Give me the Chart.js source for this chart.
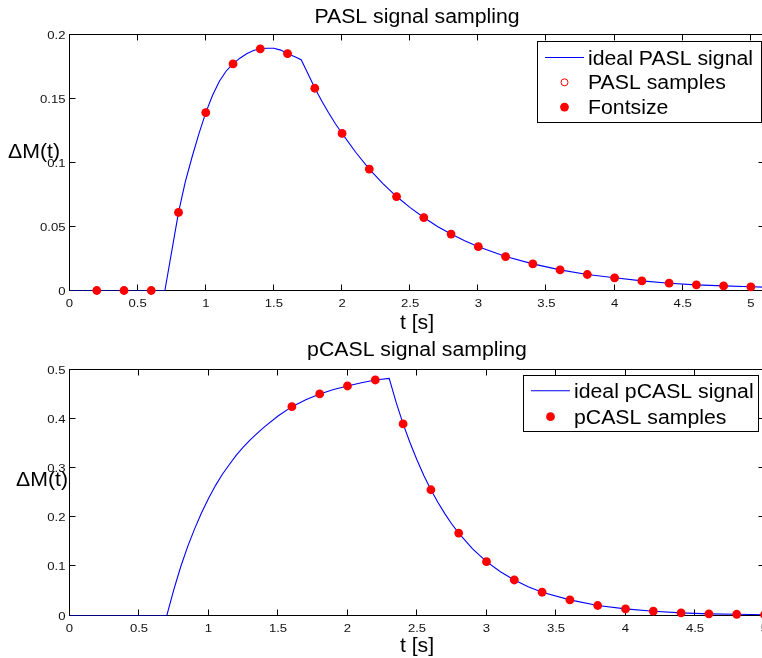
<!DOCTYPE html>
<html>
<head>
<meta charset="utf-8">
<title>ASL signal sampling</title>
<script src="https://cdn.jsdelivr.net/npm/chart.js@4.4.0/dist/chart.umd.min.js"></script>
<style>
  html, body { margin: 0; padding: 0; background: #fff; overflow: hidden; width: 762px; height: 658px; }
  canvas { position: absolute; left: 0; }
  #paslChart { top: 0; }
  #pcaslChart { top: 330px; }
</style>
</head>
<body>
<canvas id="paslChart" width="770" height="336"></canvas>
<canvas id="pcaslChart" width="770" height="328"></canvas>
<script>
const FONT = "'Liberation Sans', Arial, Helvetica, sans-serif";

// PASL panel
const paslTimes = [0.2, 0.4, 0.6, 0.8, 1.0, 1.2, 1.4, 1.6, 1.8, 2.0, 2.2, 2.4, 2.6,
  2.8, 3.0, 3.2, 3.4, 3.6, 3.8, 4.0, 4.2, 4.4, 4.6, 4.8, 5.0];
const paslSamples = [0, 0, 0, 0.061, 0.139, 0.177, 0.1888, 0.185, 0.158, 0.1227, 0.0949,
  0.0734, 0.057, 0.0441, 0.0342, 0.0265, 0.0208, 0.0161, 0.0125, 0.0099, 0.0075,
  0.0057, 0.0044, 0.0036, 0.0029];
const paslCurveTimes = [0, 0.7, 0.75, 0.8, 0.85, 0.9, 0.95, 1.0, 1.05, 1.1, 1.15, 1.2,
  1.25, 1.3, 1.35, 1.4, 1.45, 1.5, 1.55, 1.6, 1.65, 1.7, 1.75, 1.8, 1.85, 1.9, 1.95,
  2.0, 2.1, 2.2, 2.3, 2.4, 2.5, 2.6, 2.7, 2.8, 2.9, 3.0, 3.2, 3.4, 3.6, 3.8, 4.0, 4.2,
  4.4, 4.6, 4.8, 5.0, 5.1];
const paslCurveValues = [0, 0, 0.0305, 0.061, 0.085, 0.1045, 0.1225, 0.139, 0.1525,
  0.1635, 0.1715, 0.177, 0.1815, 0.185, 0.1875, 0.1889, 0.1893, 0.1893, 0.1878, 0.185,
  0.1829, 0.1803, 0.1694, 0.1582, 0.1482, 0.139, 0.1305, 0.1227, 0.108, 0.0949, 0.0835,
  0.0734, 0.0647, 0.057, 0.05, 0.0441, 0.0389, 0.0342, 0.0265, 0.0208, 0.0161, 0.0125,
  0.0099, 0.0075, 0.0057, 0.0044, 0.0036, 0.0029, 0.0026];
const paslXTicks = [0, 0.5, 1, 1.5, 2, 2.5, 3, 3.5, 4, 4.5, 5];
const paslYTicks = [0, 0.05, 0.1, 0.15, 0.2];

// pCASL panel
const pcaslTimes = [1.6, 1.8, 2.0, 2.2, 2.4, 2.6, 2.8, 3.0, 3.2, 3.4, 3.6, 3.8, 4.0,
  4.2, 4.4, 4.6, 4.8, 5.0];
const pcaslSamples = [0.4245, 0.4503, 0.4665, 0.4787, 0.3894, 0.2556, 0.1676, 0.1095,
  0.0722, 0.0473, 0.0317, 0.0203, 0.0134, 0.0087, 0.0053, 0.0033, 0.0025, 0.0015];
const pcaslCurveTimes = [0, 0.7, 0.75, 0.8, 0.85, 0.9, 0.95, 1.0, 1.05, 1.1, 1.15, 1.2,
  1.25, 1.3, 1.35, 1.4, 1.5, 1.6, 1.7, 1.8, 1.9, 2.0, 2.1, 2.2, 2.3, 2.35, 2.4, 2.45,
  2.5, 2.55, 2.6, 2.65, 2.7, 2.75, 2.8, 2.9, 3.0, 3.1, 3.2, 3.3, 3.4, 3.6, 3.8, 4.0,
  4.2, 4.4, 4.6, 4.8, 5.0];
const pcaslCurveValues = [0, 0, 0.052, 0.099, 0.14, 0.176, 0.209, 0.238, 0.264, 0.287,
  0.307, 0.326, 0.342, 0.357, 0.37, 0.383, 0.4055, 0.4245, 0.4385, 0.4503, 0.4595,
  0.4665, 0.473, 0.4787, 0.482, 0.433, 0.3894, 0.351, 0.316, 0.284, 0.2556, 0.23, 0.207,
  0.186, 0.1676, 0.1355, 0.1095, 0.089, 0.0722, 0.0585, 0.0473, 0.0317, 0.0203, 0.0134,
  0.0087, 0.0053, 0.0033, 0.0025, 0.0015];
const pcaslXTicks = [0, 0.5, 1, 1.5, 2, 2.5, 3, 3.5, 4, 4.5, 5];
const pcaslYTicks = [0, 0.1, 0.2, 0.3, 0.4, 0.5];

function points(xs, ys) {
  return xs.map((x, i) => ({ x: x, y: ys[i] }));
}

// the labels come out a little wide, so text is drawn with a horizontal stretch
function wideText(ctx, text, x, y, size, align, sx) {
  ctx.save();
  ctx.font = size + "px " + FONT;
  ctx.textAlign = align;
  ctx.textBaseline = "alphabetic";
  ctx.translate(x, y);
  ctx.scale(sx, 1);
  ctx.fillText(text, 0, 0);
  ctx.restore();
}

// box round the axes, inward ticks on every side, tick labels, titles and a boxed legend
const frame = {
  id: "frame",
  beforeDatasetsDraw(chart) {
    const { ctx, chartArea: a } = chart;
    const x = chart.scales.x;
    const y = chart.scales.y;
    ctx.save();
    ctx.strokeStyle = "#000";
    ctx.lineWidth = 1;
    ctx.strokeRect(a.left, a.top, a.right - a.left, a.bottom - a.top);
    ctx.beginPath();
    x.ticks.forEach((t) => {
      const px = Math.round(x.getPixelForValue(t.value)) - 0.5;
      ctx.moveTo(px, a.bottom);
      ctx.lineTo(px, a.bottom - 6);
      ctx.moveTo(px, a.top);
      ctx.lineTo(px, a.top + 6);
    });
    y.ticks.forEach((t) => {
      const py = Math.round(y.getPixelForValue(t.value)) - 0.5;
      ctx.moveTo(a.left, py);
      ctx.lineTo(a.left + 6, py);
      ctx.moveTo(a.right, py);
      ctx.lineTo(a.right - 6, py);
    });
    ctx.stroke();

    ctx.fillStyle = "#111";
    x.ticks.forEach((t) => {
      wideText(ctx, String(t.value), x.getPixelForValue(t.value), a.bottom + 16, 11.5, "center", 1.14);
    });
    y.ticks.forEach((t) => {
      wideText(ctx, String(t.value), a.left - 4, y.getPixelForValue(t.value) + 4, 11.5, "right", 1.14);
    });
    ctx.restore();
  },
  afterDraw(chart, args, o) {
    const { ctx, chartArea: a } = chart;
    const fs = 19.5;
    const sx = 1.09;
    ctx.save();
    ctx.fillStyle = "#000";
    const cx = (a.left + a.right) / 2;
    wideText(ctx, o.title, cx, a.top - o.titleGap, fs, "center", sx);
    wideText(ctx, o.xlabel, cx, a.bottom + o.xlabelGap, fs, "center", sx);
    wideText(ctx, o.ylabel, o.ylabelX, o.ylabelY, fs, "left", sx);

    const L = o.legend;
    ctx.fillStyle = "#fff";
    ctx.fillRect(L.x, L.y, L.w, L.h);
    ctx.strokeStyle = "#000";
    ctx.lineWidth = 1;
    ctx.strokeRect(L.x + 0.5, L.y + 0.5, L.w, L.h);
    chart.data.datasets.forEach((ds, i) => {
      const cy = L.y + L.first + i * L.row;
      if (ds.showLine === false) {
        ctx.beginPath();
        ctx.arc(L.x + 27.5, cy, ds.pointRadius, 0, Math.PI * 2);
        ctx.fillStyle = ds.pointBackgroundColor;
        ctx.fill();
        if (ds.pointBorderWidth > 0) {
          ctx.strokeStyle = ds.pointBorderColor;
          ctx.lineWidth = ds.pointBorderWidth;
          ctx.stroke();
        }
      } else {
        ctx.beginPath();
        ctx.moveTo(L.x + 8, cy);
        ctx.lineTo(L.x + 47, cy);
        ctx.strokeStyle = ds.borderColor;
        ctx.lineWidth = ds.borderWidth;
        ctx.stroke();
      }
      ctx.fillStyle = "#000";
      wideText(ctx, ds.label, L.x + 51, cy + 7, fs, "left", sx);
    });
    ctx.restore();
  },
};

function makePanel(id, cfg) {
  return new Chart(document.getElementById(id), {
    type: "line",
    data: {
      datasets: [
        {
          label: cfg.lineLabel,
          data: points(cfg.curveT, cfg.curveV),
          borderColor: "#0000ff",
          borderWidth: 1.1,
          pointRadius: 0,
          tension: 0,
          order: 3,
        },
      ].concat(cfg.markers),
    },
    options: {
      responsive: false,
      animation: false,
      devicePixelRatio: 1,
      events: [],
      layout: { padding: cfg.padding },
      plugins: {
        legend: { display: false },
        title: { display: false },
        tooltip: { enabled: false },
        frame: cfg.frame,
      },
      scales: {
        x: {
          type: "linear",
          min: 0,
          max: cfg.xMax,
          grid: { display: false, drawTicks: false },
          border: { display: false },
          afterBuildTicks: (s) => {
            s.ticks = cfg.xTicks.map((v) => ({ value: v }));
          },
          afterFit: (s) => {
            s.height = cfg.xHeight;
          },
          ticks: { display: false },
        },
        y: {
          type: "linear",
          min: 0,
          max: cfg.yMax,
          grid: { display: false, drawTicks: false },
          border: { display: false },
          afterBuildTicks: (s) => {
            s.ticks = cfg.yTicks.map((v) => ({ value: v }));
          },
          afterFit: (s) => {
            s.width = cfg.yWidth;
          },
          ticks: { display: false },
        },
      },
    },
    plugins: [frame],
  });
}

makePanel("paslChart", {
  lineLabel: "ideal PASL signal",
  curveT: paslCurveTimes,
  curveV: paslCurveValues,
  markers: [
    {
      label: "PASL samples",
      data: points(paslTimes, paslSamples),
      showLine: false,
      pointRadius: 3.5,
      pointBackgroundColor: "rgba(0,0,0,0)",
      pointBorderColor: "#ff0000",
      pointBorderWidth: 1,
      clip: false,
      order: 2,
    },
    {
      label: "Fontsize",
      data: points(paslTimes, paslSamples),
      showLine: false,
      pointRadius: 4.4,
      pointBackgroundColor: "#ff0000",
      pointBorderColor: "#ff0000",
      pointBorderWidth: 0,
      clip: false,
      order: 1,
    },
  ],
  xMax: 5.1,
  yMax: 0.2,
  xTicks: paslXTicks,
  yTicks: paslYTicks,
  padding: { left: 0, top: 34.5, right: 5.5, bottom: 0 },
  xHeight: 45.5,
  yWidth: 69.5,
  frame: {
    title: "PASL signal sampling",
    titleGap: 12,
    xlabel: "t [s]",
    xlabelGap: 38,
    ylabel: "\u0394M(t)",
    ylabelX: 8,
    ylabelY: 158,
    legend: { x: 537, y: 41, w: 224, h: 81, first: 16.5, row: 24.8 },
  },
});

makePanel("pcaslChart", {
  lineLabel: "ideal pCASL signal",
  curveT: pcaslCurveTimes,
  curveV: pcaslCurveValues,
  markers: [
    {
      label: "pCASL samples",
      data: points(pcaslTimes, pcaslSamples),
      showLine: false,
      pointRadius: 4.4,
      pointBackgroundColor: "#ff0000",
      pointBorderColor: "#ff0000",
      pointBorderWidth: 0,
      clip: false,
      order: 1,
    },
  ],
  xMax: 5,
  yMax: 0.5,
  xTicks: pcaslXTicks,
  yTicks: pcaslYTicks,
  padding: { left: 0, top: 39.5, right: 5.5, bottom: 0 },
  xHeight: 42.5,
  yWidth: 69.5,
  frame: {
    title: "pCASL signal sampling",
    titleGap: 13.5,
    xlabel: "t [s]",
    xlabelGap: 36,
    ylabel: "\u0394M(t)",
    ylabelX: 16,
    ylabelY: 156,
    legend: { x: 523, y: 45, w: 235, h: 56, first: 15.7, row: 26 },
  },
});
</script>
</body>
</html>
